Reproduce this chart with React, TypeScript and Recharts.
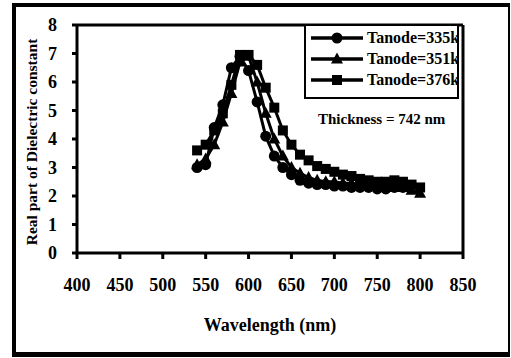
import React from 'react';
import { LineChart, Line, XAxis, YAxis, ReferenceLine } from 'recharts';

const wavelengths335 = [540, 550, 560, 570, 580, 590, 600, 610, 620, 630, 640, 650, 660, 670, 680, 690, 700, 710, 720, 730, 740, 750, 760, 770, 780];
const values335 = [3.0, 3.1, 4.4, 5.2, 6.5, 6.9, 6.4, 5.3, 4.1, 3.4, 3.0, 2.75, 2.55, 2.45, 2.4, 2.4, 2.35, 2.35, 2.3, 2.3, 2.3, 2.25, 2.25, 2.3, 2.3];

const wavelengths351 = [540, 550, 560, 570, 580, 590, 600, 610, 620, 630, 640, 650, 660, 670, 680, 690, 700, 710, 720, 730, 740, 750, 760, 770, 780, 790, 800];
const values351 = [3.1, 3.3, 3.8, 4.6, 5.6, 6.7, 6.9, 6.0, 4.9, 4.0, 3.4, 3.0, 2.8, 2.65, 2.55, 2.5, 2.5, 2.45, 2.45, 2.4, 2.4, 2.35, 2.35, 2.3, 2.3, 2.2, 2.1];

const wavelengths376 = [540, 550, 560, 570, 580, 590, 600, 610, 620, 630, 640, 650, 660, 670, 680, 690, 700, 710, 720, 730, 740, 750, 760, 770, 780, 790, 800];
const values376 = [3.6, 3.8, 4.3, 4.9, 5.9, 6.95, 6.95, 6.6, 5.8, 5.1, 4.3, 3.8, 3.45, 3.25, 3.05, 2.95, 2.85, 2.75, 2.7, 2.6, 2.55, 2.5, 2.5, 2.55, 2.5, 2.4, 2.3];

const seriesNames = ['Tanode=335k', 'Tanode=351k', 'Tanode=376k'];
const xTicks = [400, 450, 500, 550, 600, 650, 700, 750, 800, 850];
const yTicks = [0, 1, 2, 3, 4, 5, 6, 7, 8];
const xTitle = 'Wavelength (nm)';
const yTitle = 'Real part of Dielectric constant';
const note = 'Thickness = 742 nm';

const toPoints = (xs: number[], ys: number[]) => xs.map((x, i) => ({ x, y: ys[i] }));
const data335 = toPoints(wavelengths335, values335);
const data351 = toPoints(wavelengths351, values351);
const data376 = toPoints(wavelengths376, values376);

const FONT = "'Liberation Serif', 'Times New Roman', Times, 'DejaVu Serif', serif";

const CircleDot = (p: any) =>
  p.cx == null ? null : <circle key={`c${p.index}`} cx={p.cx} cy={p.cy} r={5.5} fill="#000" />;
const TriDot = (p: any) =>
  p.cx == null ? null : (
    <polygon
      key={`t${p.index}`}
      points={`${p.cx},${p.cy - 6.5} ${p.cx - 6},${p.cy + 4.5} ${p.cx + 6},${p.cy + 4.5}`}
      fill="#000"
    />
  );
const SquareDot = (p: any) =>
  p.cx == null ? null : <rect key={`s${p.index}`} x={p.cx - 5} y={p.cy - 5} width={10} height={10} fill="#000" />;

const LegendIcon = ({ kind }: { kind: number }) => (
  <svg width={52} height={14} style={{ display: 'block' }}>
    <line x1={0} y1={7} x2={52} y2={7} stroke="#000" strokeWidth={3.5} />
    {kind === 0 && <circle cx={26} cy={7} r={5.5} fill="#000" />}
    {kind === 1 && <polygon points="26,0.5 20,11.5 32,11.5" fill="#000" />}
    {kind === 2 && <rect x={21} y={2} width={10} height={10} fill="#000" />}
  </svg>
);

export default function App() {
  return (
    <div style={{ position: 'absolute', left: 0, top: 0, width: 511, height: 358, background: '#fff', fontFamily: FONT }}>
      <div
        style={{
          position: 'absolute',
          left: 12,
          top: 3,
          width: 492,
          height: 345,
          borderLeft: '4px solid #000',
          borderTop: '4px solid #000',
          borderBottom: '5px solid #000',
          borderRight: '2px solid #000',
        }}
      />
      <div style={{ position: 'absolute', left: 0, top: 0 }}>
        <LineChart width={511} height={358} margin={{ top: 25, right: 48, left: 0, bottom: 0 }} style={{ fontFamily: FONT }}>
          <XAxis
            type="number"
            dataKey="x"
            domain={[400, 850]}
            ticks={xTicks}
            allowDataOverflow
            height={105}
            stroke="#000"
            strokeWidth={3}
            tickSize={6}
            tickMargin={19}
            tick={{ fill: '#000', fontSize: 18, fontWeight: 'bold', fontFamily: FONT }}
            label={{
              value: xTitle,
              position: 'insideBottom',
              offset: 27,
              style: { fill: '#000', fontSize: 18, fontWeight: 'bold', fontFamily: FONT },
            }}
          />
          <YAxis
            type="number"
            domain={[0, 8]}
            ticks={yTicks}
            width={77}
            stroke="#000"
            strokeWidth={3}
            tickSize={5}
            tickMargin={15}
            tick={{ fill: '#000', fontSize: 18, fontWeight: 'bold', fontFamily: FONT }}
            label={{
              value: yTitle,
              angle: -90,
              position: 'insideLeft',
              offset: 31,
              dy: 3,
              dx: 0,
              style: { textAnchor: 'middle', fill: '#000', fontSize: 15.5, fontWeight: 'bold', fontFamily: FONT },
            }}
          />
          <ReferenceLine y={8} stroke="#000" strokeWidth={3} ifOverflow="extendDomain" />
          <ReferenceLine x={850} stroke="#000" strokeWidth={3} ifOverflow="extendDomain" />
          <Line data={data335} dataKey="y" name={seriesNames[0]} stroke="#000" strokeWidth={3} dot={CircleDot} isAnimationActive={false} />
          <Line data={data351} dataKey="y" name={seriesNames[1]} stroke="#000" strokeWidth={3} dot={TriDot} isAnimationActive={false} />
          <Line data={data376} dataKey="y" name={seriesNames[2]} stroke="#000" strokeWidth={3} dot={SquareDot} isAnimationActive={false} />
        </LineChart>
      </div>
      <div
        style={{
          position: 'absolute',
          left: 304,
          top: 24,
          width: 151,
          height: 71,
          border: '2px solid #000',
          overflow: 'hidden',
          background: '#fff',
        }}
      >
        {seriesNames.map((n, i) => (
          <div key={n} style={{ position: 'absolute', left: 5, top: 5 + i * 21, display: 'flex', alignItems: 'center', whiteSpace: 'nowrap' }}>
            <LegendIcon kind={i} />
            <span style={{ marginLeft: 4, fontSize: 16, fontWeight: 'bold', lineHeight: '14px', color: '#000' }}>{n}</span>
          </div>
        ))}
      </div>
      <div style={{ position: 'absolute', left: 318, top: 111, fontSize: 15, fontWeight: 'bold', whiteSpace: 'nowrap', color: '#000' }}>
        {note}
      </div>
    </div>
  );
}
